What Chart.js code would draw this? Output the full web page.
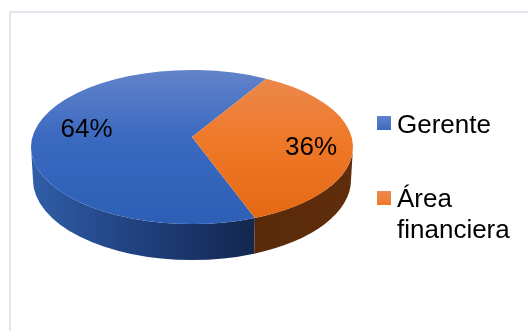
<!DOCTYPE html>
<html>
<head>
<meta charset="utf-8">
<style>
  html, body { margin: 0; background: #fff; }
  canvas { display: block; }
</style>
<script src="https://cdn.jsdelivr.net/npm/chart.js@4"></script>
</head>
<body>
<canvas id="myChart" width="528" height="331"></canvas>
<script>
const categories = ['Gerente', 'Área financiera'];
const shares = [64, 36];
const shareLabels = ['64%', '36%'];

// look of the tilted pie
const tilt = 77 / 161;        // height/width of the top face
const lift = 18.5;            // top face sits above the centre of the chart area
const apexLift = 10;          // perspective moves the visual centre up a bit
const wallDrop = 33;          // bottom rim ellipse relative to top rim
const wallInset = 2;
const wallGrow = 3;
const fontName = '"Liberation Sans", Arial, sans-serif';

const faceStops = [
    [[0, '#6283ca'], [0.45, '#3a69c0'], [1, '#2c5fb5']],
    [[0, '#eb8a50'], [0.45, '#ef7929'], [1, '#e36712']]
];
const wallStops = [
    [[0, '#2f5ea8'], [0.5, '#203f7c'], [1, '#13274e']],
    [[0, '#5a2a0a'], [1, '#5f2d0b']]
];
const labelSpots = [[86.5, 137], [311, 155]];
const swatchX = 377, textX = 397;
const legendRows = [[116, 133], [191, 207]];

function linear(ctx, x0, y0, x1, y1, stops) {
    const g = ctx.createLinearGradient(x0, y0, x1, y1);
    stops.forEach(s => g.addColorStop(s[0], s[1]));
    return g;
}

const pie3d = {
    id: 'pie3d',
    beforeDatasetDraw(chart) {
        const ctx = chart.ctx;
        const arcs = chart.getDatasetMeta(0).data;
        const cx = arcs[0].x;
        const rx = arcs[0].outerRadius;
        const ry = rx * tilt;
        const cy = arcs[0].y - lift;

        // side wall, only the part facing the viewer (canvas angles 0..PI)
        const rx2 = rx - wallInset, ry2 = ry + wallGrow, cy2 = cy + wallDrop;
        arcs.forEach((arc, i) => {
            [0, Math.PI * 2].forEach(base => {
                const a = Math.max(arc.startAngle, base);
                const b = Math.min(arc.endAngle, base + Math.PI);
                if (a >= b) return;
                ctx.beginPath();
                ctx.ellipse(cx, cy, rx, ry, 0, a, b);
                ctx.ellipse(cx, cy2, rx2, ry2, 0, b, a, true);
                ctx.closePath();
                const x0 = i === 0 ? cx - rx : cx + rx * Math.cos(b);
                const x1 = i === 0 ? cx + rx * Math.cos(a) : cx + rx;
                ctx.fillStyle = linear(ctx, x0, 0, x1, 0, wallStops[i]);
                ctx.fill();
            });
        });

        // top face
        arcs.forEach((arc, i) => {
            ctx.beginPath();
            ctx.moveTo(cx, cy - apexLift);
            ctx.ellipse(cx, cy, rx, ry, 0, arc.startAngle, arc.endAngle);
            ctx.closePath();
            ctx.fillStyle = linear(ctx, 0, cy - ry, 0, cy + ry, faceStops[i]);
            ctx.fill();
        });
        return false;
    },
    afterDatasetsDraw(chart) {
        const ctx = chart.ctx;
        ctx.save();
        ctx.fillStyle = '#000';
        ctx.textBaseline = 'alphabetic';

        ctx.font = '26px ' + fontName;
        ctx.textAlign = 'center';
        shareLabels.forEach((t, i) => ctx.fillText(t, labelSpots[i][0], labelSpots[i][1]));

        // legend on the right, long names wrap on spaces
        ctx.textAlign = 'left';
        categories.forEach((name, i) => {
            const row = legendRows[i];
            ctx.fillStyle = linear(ctx, 0, row[0], 0, row[0] + 14, [[0, faceStops[i][0][1]], [1, faceStops[i][1][1]]]);
            ctx.fillRect(swatchX, row[0], 14, 14);
            ctx.fillStyle = '#000';
            name.split(' ').forEach((line, j) => ctx.fillText(line, textX, row[1] + j * 31));
        });
        ctx.restore();
    }
};

// thin card outline behind the chart
const cardOutline = {
    id: 'cardOutline',
    beforeDraw(chart) {
        const ctx = chart.ctx;
        ctx.fillStyle = '#e3e7ee';
        ctx.fillRect(9, 11, 519, 2);
        ctx.fillRect(9, 11, 2, 320);
    }
};

const ctx = document.getElementById('myChart').getContext('2d');
const myChart = new Chart(ctx, {
    type: 'pie',
    data: {
        labels: categories,
        datasets: [{
            data: shares,
            backgroundColor: ['#3a69c0', '#ef7929'],
            borderWidth: 0
        }]
    },
    options: {
        responsive: false,
        animation: false,
        rotation: 157,
        events: [],
        layout: { padding: { left: 31, right: 175 } },
        plugins: {
            legend: { display: false },
            tooltip: { enabled: false }
        }
    },
    plugins: [cardOutline, pie3d]
});
</script>
</body>
</html>
